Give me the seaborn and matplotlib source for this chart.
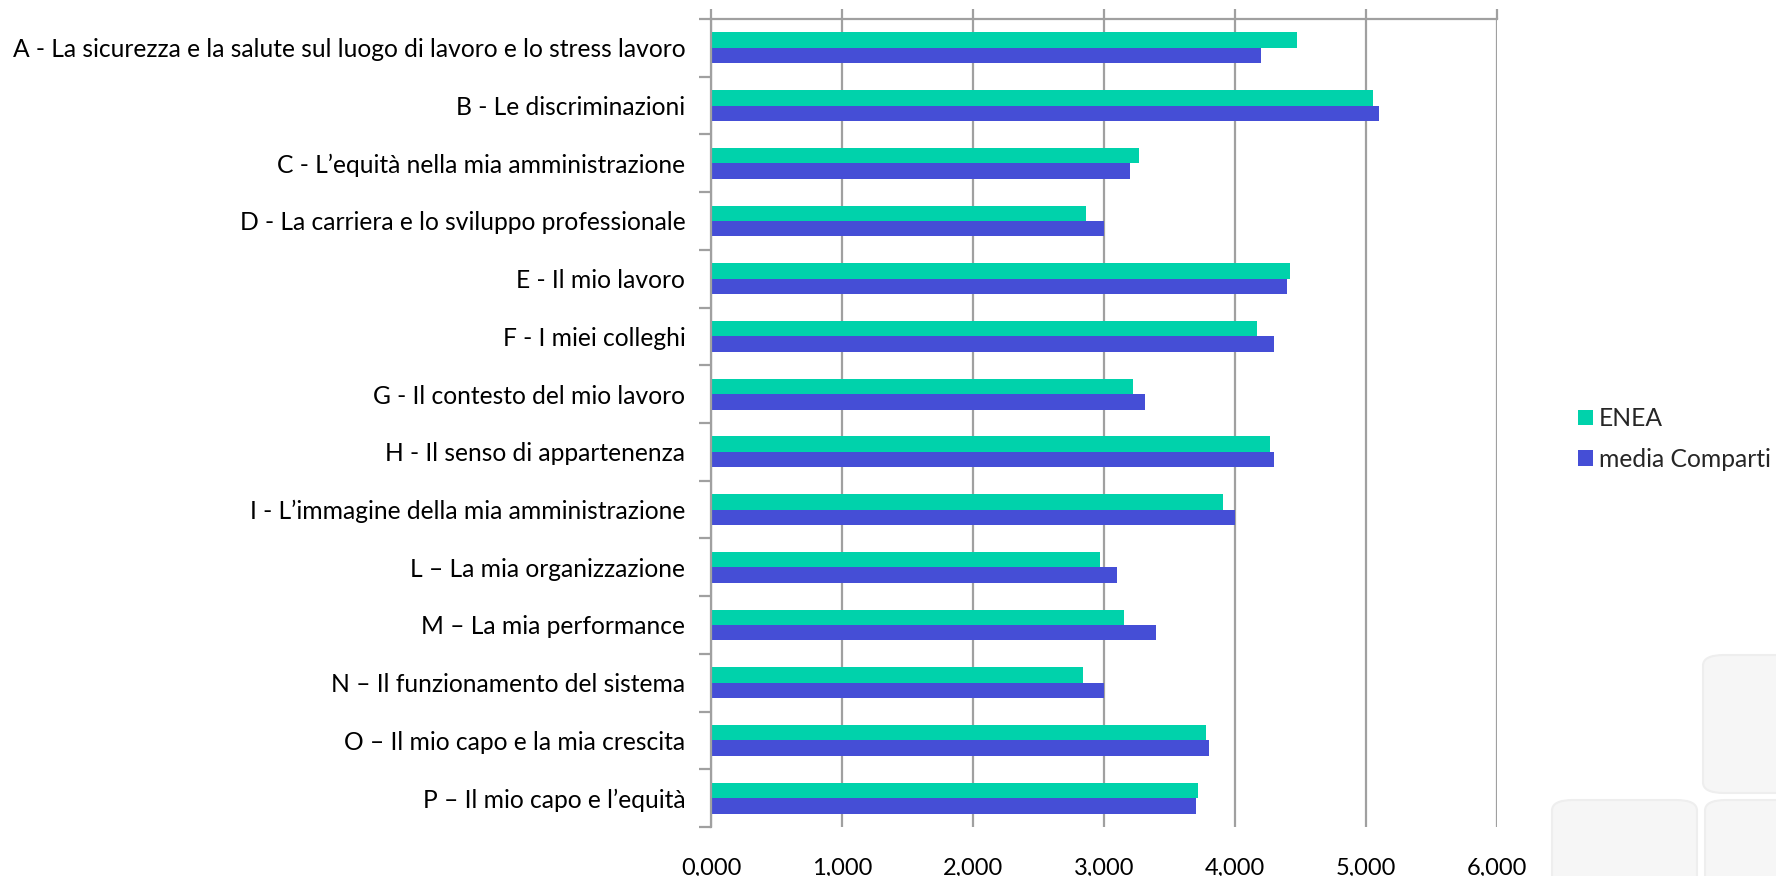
import matplotlib
matplotlib.use("Agg")
import matplotlib.pyplot as plt
from matplotlib.patches import FancyBboxPatch
from matplotlib.ticker import FixedLocator, FuncFormatter
import seaborn as sns
import pandas as pd

categories = [
    "A - La sicurezza e la salute sul luogo di lavoro e lo stress lavoro",
    "B - Le discriminazioni",
    "C - L\u2019equit\u00e0 nella mia amministrazione",
    "D - La carriera e lo sviluppo professionale",
    "E - Il mio lavoro",
    "F - I miei colleghi",
    "G - Il contesto del mio lavoro",
    "H - Il senso di appartenenza",
    "I - L\u2019immagine della mia amministrazione",
    "L \u2013 La mia organizzazione",
    "M \u2013 La mia performance",
    "N \u2013 Il funzionamento del sistema",
    "O \u2013 Il mio capo e la mia crescita",
    "P \u2013 Il mio capo e l\u2019equit\u00e0",
]
series_names = ["ENEA", "media Comparti"]
enea = [4.47, 5.05, 3.27, 2.86, 4.42, 4.17, 3.22, 4.27, 3.91, 2.97, 3.15, 2.84, 3.78, 3.72]
media = [4.20, 5.10, 3.20, 3.00, 4.40, 4.30, 3.31, 4.30, 4.00, 3.10, 3.40, 3.00, 3.80, 3.70]
x_ticks = [0, 1, 2, 3, 4, 5, 6]

colors = ["#00D2AB", "#454ED6"]

df = pd.DataFrame({
    "categoria": categories * 2,
    "serie": [series_names[0]] * len(categories) + [series_names[1]] * len(categories),
    "valore": enea + media,
})

sns.set_theme(style="white")
plt.rcParams["font.family"] = ["Lato", "DejaVu Sans"]

fig = plt.figure(figsize=(17.76, 8.76), dpi=100)
fig.patch.set_facecolor("white")

# faint decorative tiles in the bottom-right corner
tile_style = dict(boxstyle="round,pad=0,rounding_size=0.012", facecolor="#f6f6f6",
                  edgecolor="#eeeeee", linewidth=1.5, transform=fig.transFigure, zorder=0)
for (tx, ty, tw, th) in [(1703, 655, 120, 138), (1552, 800, 145, 120), (1705, 800, 120, 120)]:
    fig.patches.append(FancyBboxPatch((tx / 1776, 1 - (ty + th) / 876), tw / 1776, th / 876, **tile_style))

ax = fig.add_axes([711 / 1776, 1 - 827 / 876, 786 / 1776, 808 / 876])
ax.set_facecolor("none")

sns.barplot(data=df, y="categoria", x="valore", hue="serie", hue_order=series_names,
            order=categories, orient="h", palette=colors, width=0.535,
            saturation=1, linewidth=0, ax=ax, legend=True)

ax.set_xlim(0, 6)
ax.set_ylim(len(categories) - 0.5, -0.5)
ax.set_xlabel("")
ax.set_ylabel("")

ax.xaxis.set_major_locator(FixedLocator(x_ticks))
ax.xaxis.set_major_formatter(FuncFormatter(lambda v, p: f"{v:.3f}".replace(".", ",")))
ax.grid(axis="x", color="#a0a0a0", linewidth=1.6, zorder=0)
ax.set_axisbelow(True)

for s in ["right", "bottom"]:
    ax.spines[s].set_visible(False)
for s in ["top", "left"]:
    ax.spines[s].set_visible(True)
    ax.spines[s].set_color("#a0a0a0")
    ax.spines[s].set_linewidth(1.6)

ax.tick_params(axis="x", top=True, bottom=False, labeltop=False, labelbottom=True,
               length=7, width=1.6, color="#a0a0a0", labelsize=17, pad=15, labelcolor="black")
ax.tick_params(axis="y", which="major", left=False, length=0, labelsize=17.7, pad=18.5,
               labelcolor="black")
ax.yaxis.set_minor_locator(FixedLocator([i - 0.5 for i in range(len(categories) + 1)]))
ax.tick_params(axis="y", which="minor", left=True, length=9, width=1.6, color="#a0a0a0")

handles, labels = ax.get_legend_handles_labels()
ax.get_legend().remove()
fig.legend(handles, labels, loc="upper left", bbox_to_anchor=(1578 / 1776, 1 - 407 / 876),
           bbox_transform=fig.transFigure, frameon=False, fontsize=17.7,
           handlelength=0.61, handleheight=0.6, handletextpad=0.25, labelspacing=0.72,
           borderpad=0, borderaxespad=0)

fig.savefig("out.png", dpi=100, facecolor="white")
